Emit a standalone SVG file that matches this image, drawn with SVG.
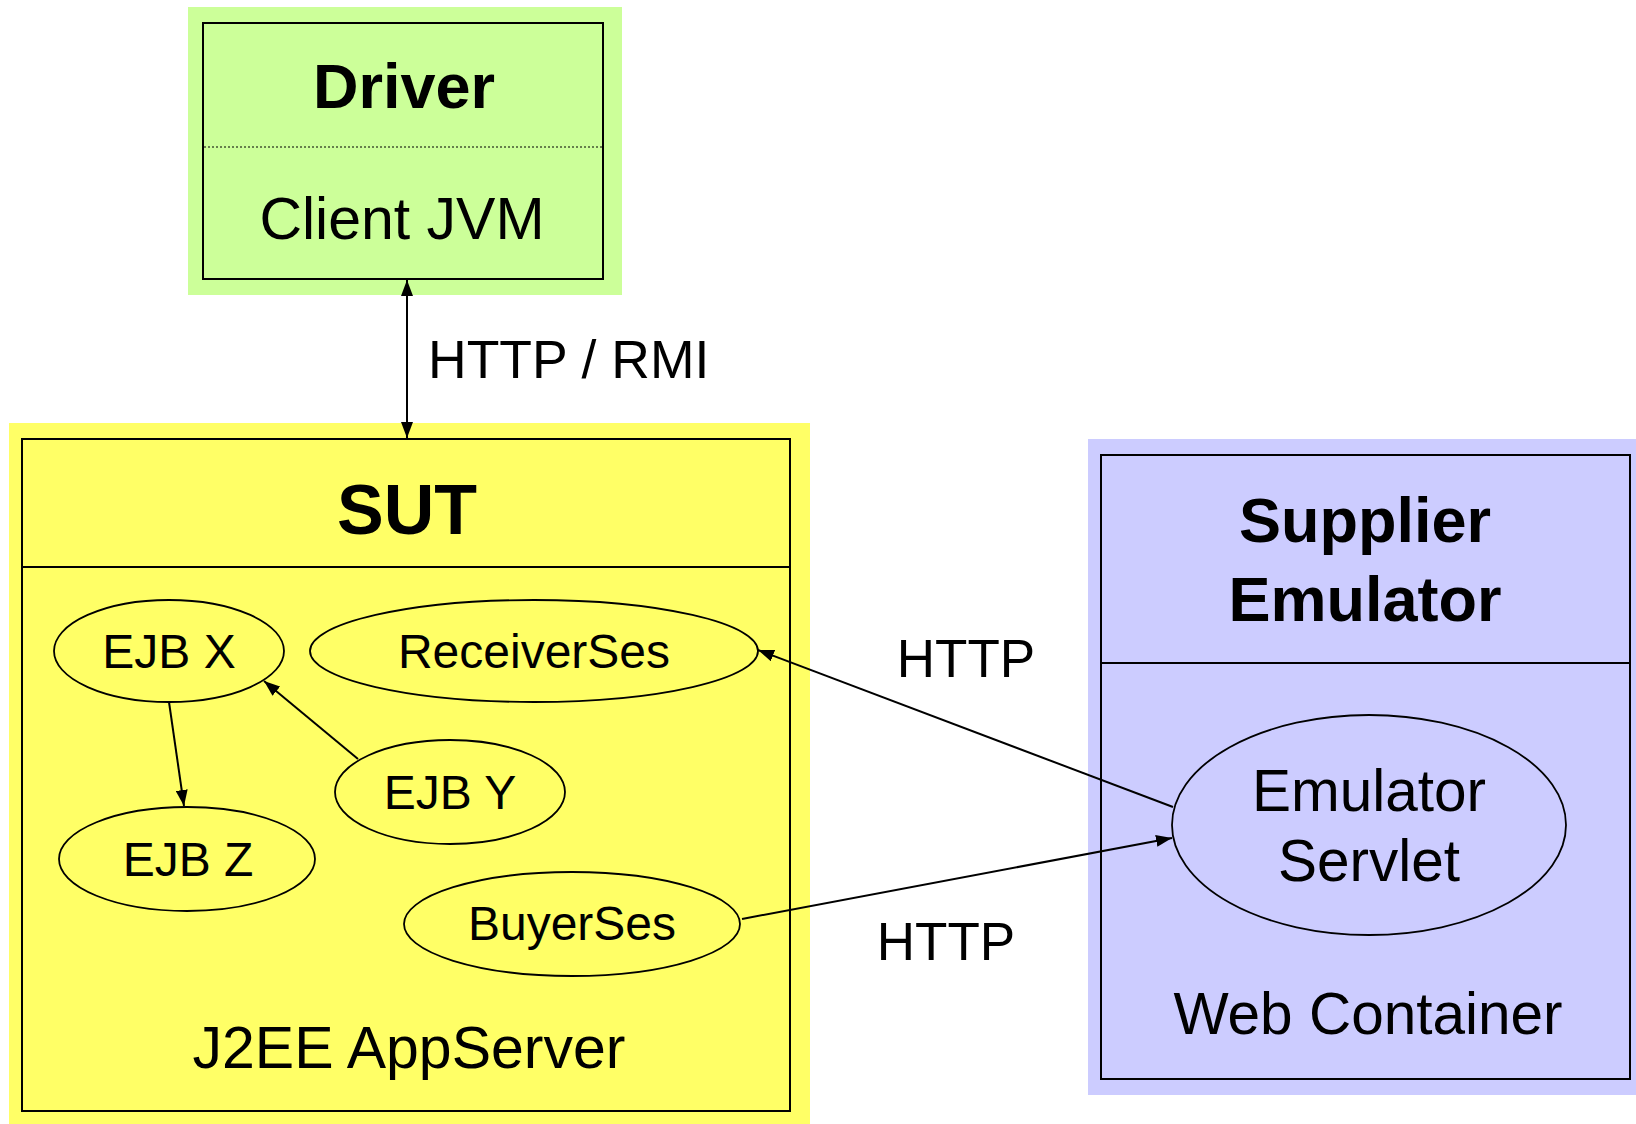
<svg xmlns="http://www.w3.org/2000/svg" width="1636" height="1124" viewBox="0 0 1636 1124">
  <style>
    .frame { fill: none; stroke: #000; stroke-width: 2; }
    .bean { stroke: #000; stroke-width: 1.8; }
    .t { font-family: "Liberation Sans", Arial, sans-serif; fill: #000; text-anchor: middle; }
    .b { font-weight: bold; }
    .link { stroke: #000; stroke-width: 2; fill: none; }
  </style>
  <defs>
    <marker id="ah" viewBox="0 0 16 12" refX="16" refY="6" markerWidth="16" markerHeight="12" orient="auto-start-reverse" markerUnits="userSpaceOnUse">
      <path d="M0,0 L16,6 L0,12 z" fill="#000"/>
    </marker>
  </defs>
  <rect width="1636" height="1124" fill="#fff"/>

  <!-- Driver / client JVM -->
  <g id="driver">
    <rect x="188" y="7" width="434" height="288" fill="#CCFF99"/>
    <rect class="frame" x="203" y="23" width="400" height="256"/>
    <line x1="204" y1="147" x2="602" y2="147" stroke="#000" stroke-width="1.2" stroke-dasharray="2,2"/>
    <text class="t b" x="404" y="108" font-size="63">Driver</text>
    <text class="t" x="402" y="239" font-size="59">Client JVM</text>
  </g>

  <!-- System under test -->
  <g id="sut">
    <rect x="9" y="423" width="801" height="701" fill="#FFFF66"/>
    <rect class="frame" x="22" y="439" width="768" height="672"/>
    <line x1="22" y1="567" x2="790" y2="567" stroke="#000" stroke-width="2"/>
    <text class="t b" x="407" y="534" font-size="70">SUT</text>
    <text class="t" x="409" y="1068" font-size="59">J2EE AppServer</text>
  </g>

  <g id="ejb-x">
    <ellipse class="bean" cx="169" cy="651" rx="115" ry="51" fill="#FFFF66"/>
    <text class="t" x="169" y="668" font-size="48">EJB X</text>
  </g>
  <g id="receiver-ses">
    <ellipse class="bean" cx="534" cy="651" rx="224" ry="51" fill="#FFFF66"/>
    <text class="t" x="534" y="668" font-size="48">ReceiverSes</text>
  </g>
  <g id="ejb-y">
    <ellipse class="bean" cx="450" cy="792" rx="115" ry="52" fill="#FFFF66"/>
    <text class="t" x="450" y="809" font-size="48">EJB Y</text>
  </g>
  <g id="ejb-z">
    <ellipse class="bean" cx="187" cy="859" rx="128" ry="52" fill="#FFFF66"/>
    <text class="t" x="188" y="876" font-size="48">EJB Z</text>
  </g>
  <g id="buyer-ses">
    <ellipse class="bean" cx="572" cy="924" rx="168" ry="52" fill="#FFFF66"/>
    <text class="t" x="572" y="940" font-size="48">BuyerSes</text>
  </g>

  <!-- Supplier emulator -->
  <g id="supplier">
    <rect x="1088" y="439" width="548" height="656" fill="#CCCCFF"/>
    <rect class="frame" x="1101" y="455" width="529" height="624"/>
    <line x1="1101" y1="663" x2="1630" y2="663" stroke="#000" stroke-width="2"/>
    <text class="t b" x="1365" y="542" font-size="63">Supplier</text>
    <text class="t b" x="1365" y="621" font-size="63">Emulator</text>
    <text class="t" x="1368" y="1034" font-size="58.5">Web Container</text>
  </g>
  <g id="emulator-servlet">
    <ellipse class="bean" cx="1369" cy="825" rx="197" ry="110" fill="#CCCCFF"/>
    <text class="t" x="1369" y="811" font-size="58.5">Emulator</text>
    <text class="t" x="1369" y="881" font-size="58.5">Servlet</text>
  </g>

  <!-- Connectors -->
  <g id="connectors">
    <line class="link" x1="407" y1="280" x2="407" y2="438" marker-start="url(#ah)" marker-end="url(#ah)"/>
    <text class="t" x="428" y="378" font-size="53.5" style="text-anchor:start">HTTP / RMI</text>
    <line class="link" x1="169" y1="702" x2="184" y2="806" stroke-width="1.6" marker-end="url(#ah)"/>
    <line class="link" x1="358" y1="759" x2="264" y2="681" stroke-width="1.6" marker-end="url(#ah)"/>
    <line class="link" x1="1173" y1="807" x2="758" y2="650" marker-end="url(#ah)"/>
    <text class="t" x="966" y="677" font-size="53">HTTP</text>
    <line class="link" x1="742" y1="919" x2="1172" y2="838" marker-end="url(#ah)"/>
    <text class="t" x="946" y="960" font-size="53">HTTP</text>
  </g>
</svg>
